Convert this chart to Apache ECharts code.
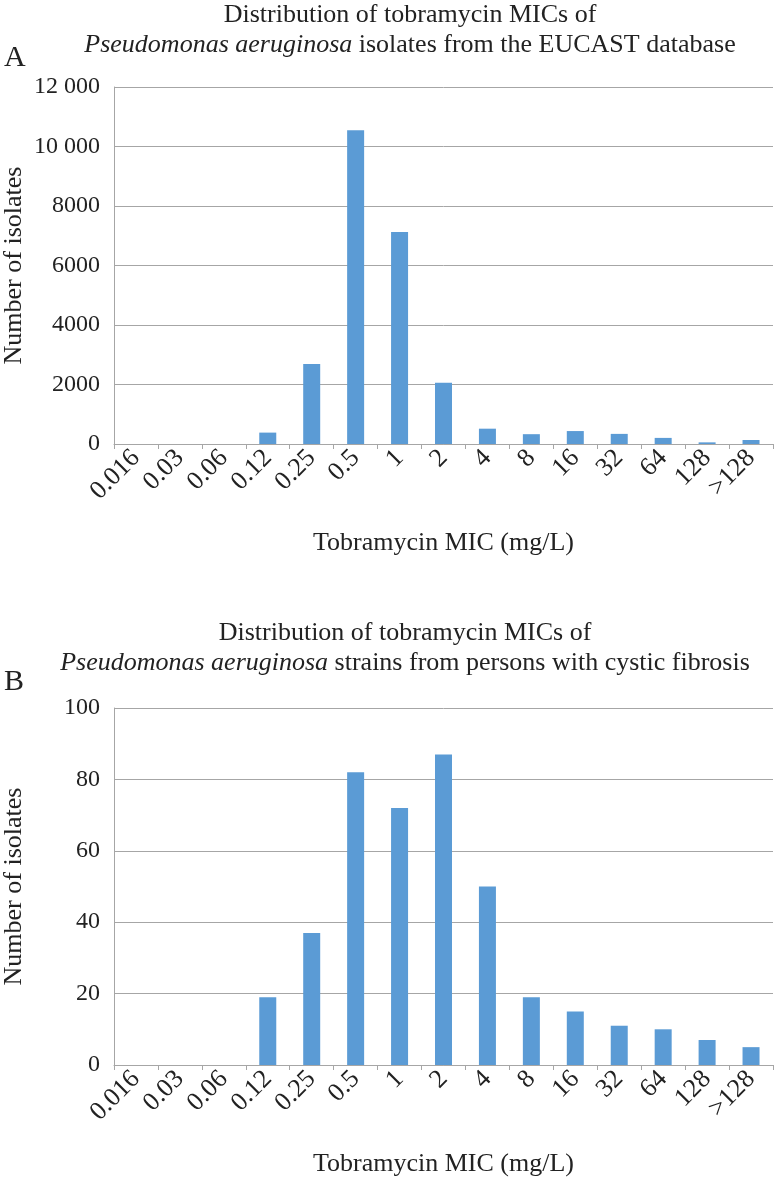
<!DOCTYPE html>
<html>
<head>
<meta charset="utf-8">
<script src="https://cdn.jsdelivr.net/npm/echarts@6/dist/echarts.min.js"></script>
<style>
html,body{margin:0;padding:0;background:#fff;}
#chart{width:777px;height:1177px;}
</style>
</head>
<body>
<div id="chart"></div>
<script>
const categories = ['0.016','0.03','0.06','0.12','0.25','0.5','1','2','4','8','16','32','64','128','>128'];
const eucastCounts = [0, 0, 0, 383, 2690, 10550, 7130, 2060, 515, 330, 435, 340, 205, 55, 135];
const cfCounts = [0, 0, 0, 19, 37, 82, 72, 87, 50, 19, 15, 11, 10, 7, 5];
const yTicksA = ['0', '2000', '4000', '6000', '8000', '10 000', '12 000'];
const yTicksB = ['0', '20', '40', '60', '80', '100'];

const FONT = '"Liberation Serif", "DejaVu Serif", serif';
const GRAY = '#A6A6A6';
const BAR = '#5B9BD5';

function xAx(gi) {
  return {
    type: 'category', gridIndex: gi, data: categories,
    axisLine: {show: true, lineStyle: {color: GRAY, width: 1}},
    axisTick: {show: true, interval: 0, length: 5, lineStyle: {color: GRAY}},
    axisLabel: {interval: 0, rotate: 45, margin: 10, fontFamily: FONT, fontSize: 26, color: '#222'},
    name: 'Tobramycin MIC (mg/L)', nameLocation: 'middle', nameGap: 86, nameMoveOverlap: false,
    nameTextStyle: {fontFamily: FONT, fontSize: 26, color: '#222'}
  };
}
function yAx(gi, max, interval, labels) {
  return {
    type: 'value', gridIndex: gi, min: 0, max: max, interval: interval,
    axisLine: {show: true, lineStyle: {color: GRAY, width: 1}},
    axisTick: {show: false},
    splitLine: {show: true, lineStyle: {color: GRAY, width: 1}},
    axisLabel: {margin: 14, fontFamily: FONT, fontSize: 24, color: '#222',
      formatter: v => labels[Math.round(v / interval)]},
    name: 'Number of isolates', nameLocation: 'middle', nameGap: 87, nameMoveOverlap: false,
    nameTextStyle: {fontFamily: FONT, fontSize: 26, color: '#222'}
  };
}
const titleStyle = {
  fontFamily: FONT, fontSize: 26, fontWeight: 'normal', color: '#222', lineHeight: 30,
  rich: {i: {fontFamily: FONT, fontSize: 26, fontStyle: 'italic', color: '#222', lineHeight: 30}}
};
const chart = echarts.init(document.getElementById('chart'));
chart.setOption({
  backgroundColor: '#fff',
  animation: false,
  title: [
    {text: 'Distribution of tobramycin MICs of\n{i|Pseudomonas aeruginosa} isolates from the EUCAST database',
     left: 410, top: 0, textAlign: 'center', textStyle: titleStyle, padding: 0},
    {text: 'A', left: 4, top: 43, textStyle: {fontFamily: FONT, fontSize: 30, fontWeight: 'normal', color: '#222'}, padding: 0},
    {text: 'Distribution of tobramycin MICs of\n{i|Pseudomonas aeruginosa} strains from persons with cystic fibrosis',
     left: 405, top: 618, textAlign: 'center', textStyle: titleStyle, padding: 0},
    {text: 'B', left: 4, top: 667, textStyle: {fontFamily: FONT, fontSize: 30, fontWeight: 'normal', color: '#222'}, padding: 0}
  ],
  grid: [
    {left: 114, right: 4, top: 87, height: 357, containLabel: false, outerBoundsMode: 'none'},
    {left: 114, right: 4, top: 708, height: 357, containLabel: false, outerBoundsMode: 'none'}
  ],
  xAxis: [xAx(0), xAx(1)],
  yAxis: [yAx(0, 12000, 2000, yTicksA), yAx(1, 100, 20, yTicksB)],
  series: [
    {type: 'bar', xAxisIndex: 0, yAxisIndex: 0, data: eucastCounts, barWidth: 17, itemStyle: {color: BAR}},
    {type: 'bar', xAxisIndex: 1, yAxisIndex: 1, data: cfCounts, barWidth: 17, itemStyle: {color: BAR}}
  ]
});
</script>
</body>
</html>
